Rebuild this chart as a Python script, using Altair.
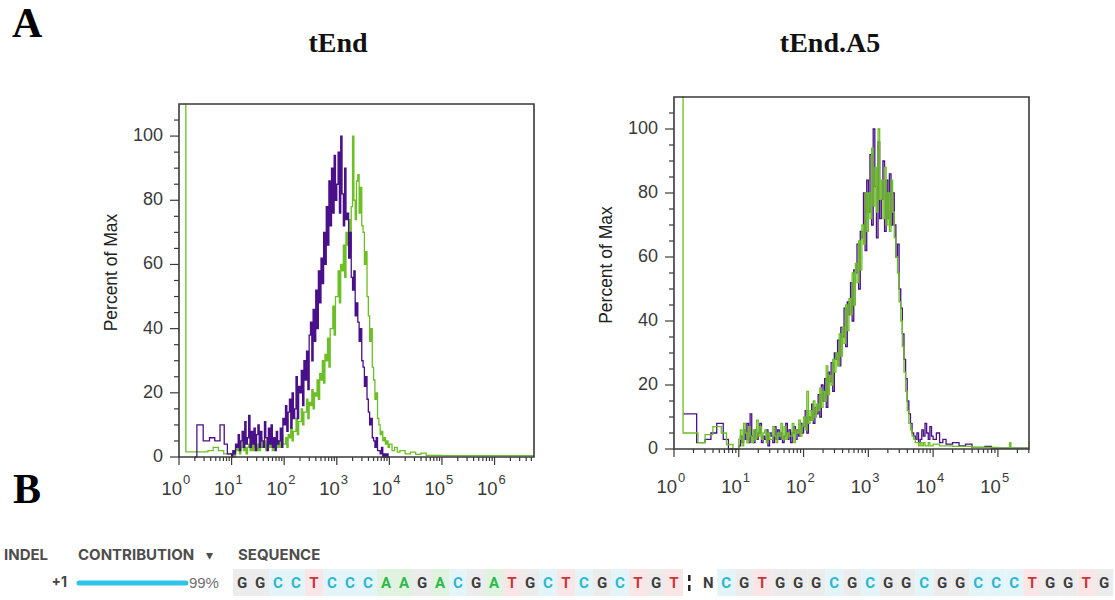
import math
import altair as alt
import pandas as pd

# ---------------- data ----------------
STEP = 0.025        # histogram channel width (decades)
DENSE_START = 1.0   # first channel of the dense part (log10 of intensity)

# ----- panel 1 : tEnd -----
L_XMAX, L_YMAX = 6.75, 110
L_purple_low_x = [0.30, 0.34, 0.46, 0.58, 0.68, 0.78, 0.86, 0.92]
L_purple_low_y = [0, 10, 5, 6, 5, 10, 4, 1]
L_purple_dense = [
    0, 2, 1, 4,   3, 7, 2, 5,   8, 3, 11, 4,   6, 13, 3, 8,   4, 9, 2, 7,
    10, 3, 8, 5,  3, 11, 6, 2,  9, 4, 10, 3,   6, 2, 8, 4,    5, 9, 3, 12,
    10, 16, 8, 14, 18, 9, 20, 12, 15, 25, 12, 22, 20, 27, 16, 30, 24, 33, 21, 38,
    42, 30, 46, 36, 52, 40, 58, 48, 62, 54, 70, 60, 78, 66, 86, 72, 90, 76, 94, 80,
    85, 95, 76, 100, 82, 72, 90, 74, 76, 62, 70, 56, 52, 58, 44, 48, 42, 36, 40, 30,
    28, 22, 25, 18, 14, 10, 12, 6, 5, 3, 6, 2, 2, 1, 3, 0, 1, 0, 1, 0,
]
L_purple_tail_x = [4.0]
L_purple_tail_y = [0]

L_green_low_x = [0.12, 0.13, 0.55, 0.65, 0.75, 0.85]
L_green_low_y = [120, 1.6, 2, 3, 2, 1]
L_green_dense = [
    1, 2, 0, 3,   2, 4, 1, 3,   5, 2, 3, 1,   3, 4, 2, 5,   2, 5, 3, 2,
    4, 2, 6, 3,   3, 5, 2, 4,   6, 3, 4, 2,   4, 6, 3, 5,   3, 5, 7, 4,
    4, 6, 3, 7,   6, 9, 5, 8,   8, 12, 7, 11, 11, 15, 10, 14, 14, 18, 12, 17,
    16, 21, 15, 20, 19, 24, 18, 26, 24, 30, 23, 32, 30, 37, 28, 40, 40, 47, 38, 50,
    50, 58, 48, 60, 58, 66, 56, 70, 66, 74, 64, 78, 100, 80, 74, 86, 88, 76, 84, 72,
    70, 60, 64, 50, 44, 36, 40, 28, 24, 18, 20, 12, 10, 7, 8, 5, 6, 4, 5, 3,
]
L_green_tail_x = [4.0, 4.05, 4.1, 4.15, 4.2, 4.3, 4.4, 4.5, 4.6, 4.7, 5.0, 6.75]
L_green_tail_y = [4, 2, 3, 1.5, 2, 1, 1.5, 0.8, 1.2, 0.5, 0.4, 0.4]

# ----- panel 2 : tEnd.A5 -----
R_XMAX, R_YMAX = 5.48, 110
R_purple_low_x = [0.14, 0.35, 0.48, 0.57, 0.66, 0.76, 0.84]
R_purple_low_y = [11, 2, 3, 5, 8, 3, 0]
R_purple_dense = [
    1, 4, 2, 6,   3, 8, 2, 11,  4, 2, 6, 3,   5, 8, 2, 4,   3, 6, 1, 5,
    4, 2, 7, 3,   6, 3, 5, 2,   4, 8, 3, 6,   2, 5, 7, 3,   6, 4, 8, 5,
    7, 12, 5, 10, 9, 14, 8, 13, 11, 17, 10, 20, 15, 22, 13, 24, 21, 27, 18, 30,
    28, 34, 26, 38, 35, 44, 32, 46, 42, 52, 40, 56, 55, 64, 50, 68, 66, 80, 62, 84,
    74, 92, 70, 100, 82, 66, 96, 72, 78, 90, 68, 84, 72, 86, 70, 80, 70, 60, 64, 50,
    44, 36, 28, 22, 15, 11, 8, 5, 4, 3, 5, 2, 3, 6, 4, 8, 5, 3, 7, 4,
]
R_purple_tail_x = [4.0, 4.05, 4.1, 4.15, 4.2, 4.3, 4.4, 4.5, 4.6, 4.8, 4.9, 5.48]
R_purple_tail_y = [3, 5, 2, 3, 1.5, 2, 1, 1.5, 0.5, 0.8, 0.3, 0.3]

R_green_low_x = [0.12, 0.14, 0.37, 0.48, 0.60, 0.73, 0.81, 0.91]
R_green_low_y = [120, 5, 2, 4.5, 7, 5, 1.4, 0]
R_green_dense = [
    3, 6, 1, 8,   5, 2, 7, 4,   2, 6, 3, 9,   4, 7, 3, 5,   6, 2, 5, 3,
    3, 7, 4, 2,   5, 4, 8, 3,   7, 3, 5, 4,   4, 8, 2, 6,   5, 9, 4, 7,
    10, 6, 18, 8, 12, 9, 15, 10, 14, 12, 19, 13, 18, 15, 26, 17, 23, 20, 28, 24,
    30, 26, 36, 29, 38, 33, 45, 37, 47, 42, 55, 45, 58, 52, 65, 56, 70, 64, 80, 68,
    80, 72, 94, 76, 88, 74, 100, 78, 84, 72, 88, 70, 80, 68, 84, 74, 66, 60, 55, 46,
    40, 32, 24, 18, 12, 8, 6, 4, 3, 2, 2, 1, 2, 1, 2, 1, 1, 2, 1, 1,
]
R_green_tail_x = [4.0, 4.1, 4.3, 4.6, 5.0, 5.18, 5.2, 5.48]
R_green_tail_y = [1.5, 1, 0.8, 0.5, 0.3, 2, 0.3, 0.3]

DECADES_L = [0, 1, 2, 3, 4, 5, 6]
DECADES_R = [0, 1, 2, 3, 4, 5]
Y_TICKS = list(range(0, 110, 5))
Y_LABELS = [0, 20, 40, 60, 80, 100]

# ----- panel B : sequence -----
SEQ_LEFT = "GGCCTCCCAAGACGATGCTCGCTGT"
SEQ_RIGHT = "NCGTGGGCGCGGCGGCCCTGGTG"
INDEL = "+1"
CONTRIBUTION = 99

# ---------------- styling ----------------
CANVAS_W, CANVAS_H = 1115, 600
PURPLE = "#4a1089"
GREEN = "#6cbf24"
AX = "#3a3a3a"
TXT = "#3a3a3a"
SANS = "Liberation Sans"
SERIF = "Liberation Serif"
BASES = ["A", "C", "G", "T", "N"]
BG_COLORS = ["#dff3e0", "#e3f5f9", "#ececec", "#fae6e6", "#ffffff"]
FG_COLORS = ["#2eb84c", "#2fb5d3", "#3d3d3d", "#c23a3d", "#3d3d3d"]


def series(low_x, low_y, dense, tail_x, tail_y):
    xs = list(low_x) + [round(DENSE_START + i * STEP, 4) for i in range(len(dense))] + list(tail_x)
    ys = list(low_y) + list(dense) + list(tail_y)
    return pd.DataFrame({"lx": xs, "pct": ys})


def panel(purple_df, green_df, xmax, ymax, xr, yr, decades, lab_y, green_on_top):
    x0, y0 = xr[0], yr[0]
    xs = alt.Scale(domain=[0, xmax], range=xr, nice=False, zero=False, clamp=True)
    ys = alt.Scale(domain=[0, ymax], range=yr, nice=False, zero=False, clamp=True)
    X = lambda f: alt.X(f, scale=xs, axis=None)
    Y = lambda f: alt.Y(f, scale=ys, axis=None)

    minor = []
    for n in range(0, int(xmax) + 1):
        for k in range(2, 10):
            v = n + math.log10(k)
            if v <= xmax:
                minor.append(v)
    xmaj = pd.DataFrame({"t": decades})
    xmin = pd.DataFrame({"t": minor})
    ymaj = pd.DataFrame({"t": [v for v in Y_TICKS if v in Y_LABELS]})
    ymin = pd.DataFrame({"t": [v for v in Y_TICKS if v not in Y_LABELS]})

    p = alt.Chart(purple_df).mark_line(color=PURPLE, strokeWidth=1.3,
                                       interpolate="step-after").encode(x=X("lx:Q"), y=Y("pct:Q"))
    g = alt.Chart(green_df).mark_line(color=GREEN, strokeWidth=1.3,
                                      interpolate="step-after").encode(x=X("lx:Q"), y=Y("pct:Q"))
    frame = alt.Chart(pd.DataFrame({"x0": [0], "x1": [xmax], "y0": [0], "y1": [ymax]})).mark_rect(
        fillOpacity=0, stroke=AX, strokeWidth=1.6
    ).encode(x=X("x0:Q"), x2="x1:Q", y=Y("y0:Q"), y2="y1:Q")

    tick = dict(color=AX, strokeWidth=1.2)
    xt_maj = alt.Chart(xmaj).mark_rule(**tick).encode(x=X("t:Q"), y=alt.value(y0), y2=alt.value(y0 + 8))
    xt_min = alt.Chart(xmin).mark_rule(**tick).encode(x=X("t:Q"), y=alt.value(y0), y2=alt.value(y0 + 4))
    yt_maj = alt.Chart(ymaj).mark_rule(**tick).encode(y=Y("t:Q"), x=alt.value(x0 - 9), x2=alt.value(x0))
    yt_min = alt.Chart(ymin).mark_rule(**tick).encode(y=Y("t:Q"), x=alt.value(x0 - 5), x2=alt.value(x0))
    ylab = alt.Chart(ymaj).mark_text(fontSize=18, font=SANS, color=TXT, align="right",
                                     baseline="middle").encode(y=Y("t:Q"), x=alt.value(x0 - 16),
                                                               text="t:Q")
    ytitle = alt.Chart(pd.DataFrame({"k": [0]})).mark_text(
        text="Percent of Max", fontSize=17.5, font=SANS, color="#222222", angle=270,
        align="center", baseline="middle").encode(x=alt.value(x0 - 67),
                                                  y=alt.value((yr[0] + yr[1]) / 2 - 8))

    lab = pd.DataFrame({"dec": decades, "base": ["10"] * len(decades),
                        "sup": [str(d) for d in decades]})
    t10 = alt.Chart(lab).mark_text(fontSize=18.5, font=SANS, color=TXT, align="right",
                                   baseline="alphabetic", dx=3).encode(
        x=X("dec:Q"), y=alt.value(lab_y), text="base:N")
    tsup = alt.Chart(lab).mark_text(fontSize=13, font=SANS, color=TXT, align="left",
                                    baseline="alphabetic", dx=4).encode(
        x=X("dec:Q"), y=alt.value(lab_y - 11), text="sup:N")
    lines = [p, g] if green_on_top else [g, p]
    return alt.layer(*lines, frame, xt_maj, xt_min, yt_maj, yt_min, ylab, ytitle, t10, tsup
                     ).resolve_scale(x="shared", y="shared")


left = panel(series(L_purple_low_x, L_purple_low_y, L_purple_dense, L_purple_tail_x, L_purple_tail_y),
             series(L_green_low_x, L_green_low_y, L_green_dense, L_green_tail_x, L_green_tail_y),
             L_XMAX, L_YMAX, [179, 534], [457, 104], DECADES_L, 495, False)
right = panel(series(R_purple_low_x, R_purple_low_y, R_purple_dense, R_purple_tail_x, R_purple_tail_y),
              series(R_green_low_x, R_green_low_y, R_green_dense, R_green_tail_x, R_green_tail_y),
              R_XMAX, R_YMAX, [674, 1029], [449, 97], DECADES_R, 493, True)

# ---------------- sequence panel ----------------
SLOT0, SLOT_W = 242, 18
SEQ2_OFFSET = 25.9
CUT_SLOT = 24.85
slots = list(range(len(SEQ_LEFT))) + [SEQ2_OFFSET + j for j in range(len(SEQ_RIGHT))]
seq_df = pd.DataFrame({"base": list(SEQ_LEFT + SEQ_RIGHT), "slot": slots})
n_slots = 48
sx = alt.Scale(domain=[0, n_slots], range=[SLOT0, SLOT0 + n_slots * SLOT_W], nice=False, zero=False)
bg = alt.Chart(seq_df).transform_calculate(s0="datum.slot - 0.5", s1="datum.slot + 0.5").mark_rect().encode(
    x=alt.X("s0:Q", scale=sx, axis=None), x2="s1:Q",
    y=alt.value(569), y2=alt.value(596),
    color=alt.Color("base:N", scale=alt.Scale(domain=BASES, range=BG_COLORS), legend=None))
letters = alt.Chart(seq_df).mark_text(font="Roboto", fontWeight="bold", fontSize=15,
                                      baseline="middle", align="center").encode(
    x=alt.X("slot:Q", scale=sx, axis=None), y=alt.value(583), text="base:N",
    color=alt.Color("base:N", scale=alt.Scale(domain=BASES, range=FG_COLORS), legend=None))
cut = alt.Chart(pd.DataFrame({"slot": [CUT_SLOT]})).mark_rule(
    color="#222222", strokeWidth=2.5, strokeDash=[6, 4]).encode(
    x=alt.X("slot:Q", scale=sx, axis=None), y=alt.value(575), y2=alt.value(592))
seq_layer = alt.layer(bg, letters, cut).resolve_scale(x="shared", color="independent")

contrib_df = pd.DataFrame({"indel": [INDEL], "contribution": [CONTRIBUTION]})
cx = alt.Scale(domain=[0, 100], range=[79, 187], nice=False, zero=False)
bar = alt.Chart(contrib_df).transform_calculate(z="0").mark_rule(
    color="#2ec4e8", strokeWidth=5, strokeCap="round").encode(
    x=alt.X("z:Q", scale=cx, axis=None), x2="contribution:Q", y=alt.value(583))
pct = alt.Chart(contrib_df).transform_calculate(lab="datum.contribution + '%'").mark_text(
    font=SANS, fontSize=15, color="#6f6f6f", align="left", baseline="middle", dx=3).encode(
    x=alt.X("contribution:Q", scale=cx, axis=None), y=alt.value(583), text="lab:N")
indel_t = alt.Chart(contrib_df).mark_text(font="Inter", fontSize=14, fontWeight="bold", color="#444444",
                                          align="right", baseline="middle").encode(
    x=alt.value(67), y=alt.value(583), text="indel:N")
bar_layer = alt.layer(bar, pct, indel_t).resolve_scale(x="shared")

ONE = pd.DataFrame({"k": [0]})


def label(text, x, y, **kw):
    return alt.Chart(ONE).mark_text(text=text, **kw).encode(x=alt.value(x), y=alt.value(y))


hdr = dict(font="Inter", fontSize=15, fontWeight="bold", color="#4d4d4d", align="left", baseline="middle")
texts = [
    label("A", 12, 37, font=SERIF, fontSize=42, fontWeight="bold", color="#000000", align="left",
          baseline="alphabetic"),
    label("B", 13, 503, font=SERIF, fontSize=42, fontWeight="bold", color="#000000", align="left",
          baseline="alphabetic"),
    label("tEnd", 338, 52, font=SERIF, fontSize=28, fontWeight="bold", color="#111111", align="center",
          baseline="alphabetic"),
    label("tEnd.A5", 830, 52, font=SERIF, fontSize=28, fontWeight="bold", color="#111111", align="center",
          baseline="alphabetic"),
    label("INDEL", 4, 555, **hdr),
    label("CONTRIBUTION", 78, 555, **hdr),
    label("\u25BE", 206, 556, font="DejaVu Sans", fontSize=14, color="#4d4d4d", align="left",
          baseline="middle"),
    label("SEQUENCE", 238, 555, **hdr),
]

chart = alt.layer(left, right, seq_layer, bar_layer, *texts).resolve_scale(
    x="independent", y="independent", color="independent"
).properties(
    width=CANVAS_W, height=CANVAS_H, padding=0,
    autosize=alt.AutoSizeParams(type="none"),
).configure_view(stroke=None)

chart.save("out.html", embed_options={"renderer": "svg", "actions": False})
